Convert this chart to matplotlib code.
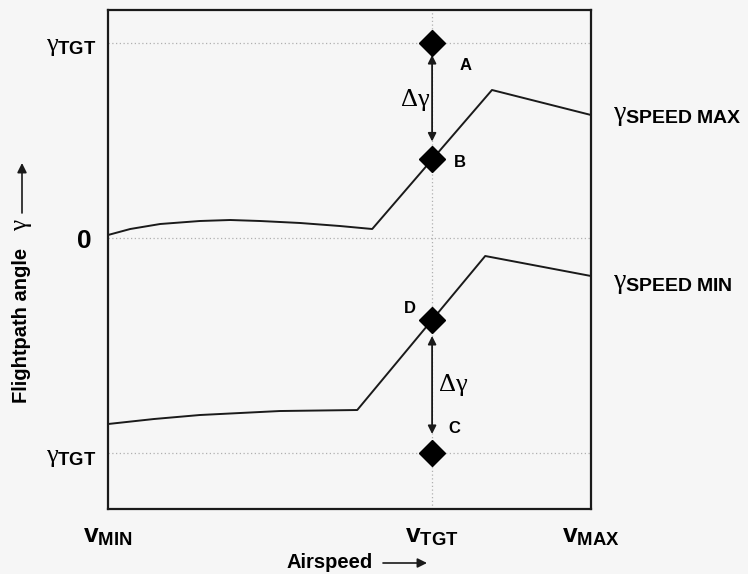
import matplotlib.pyplot as plt
import matplotlib.transforms as mtransforms
import numpy as np

plt.rcParams['font.family'] = ['Liberation Sans', 'DejaVu Sans']
plt.rcParams['mathtext.fontset'] = 'custom'
plt.rcParams['mathtext.rm'] = 'Liberation Sans:bold'
plt.rcParams['mathtext.it'] = 'Liberation Serif'
plt.rcParams['mathtext.bf'] = 'Liberation Sans:bold'

# airspeed in % of the range Vmin..Vmax, flightpath angle in arbitrary units
v_tgt = 67.1
gamma_tgt_up = 3.9
gamma_tgt_down = -4.3

speed_max_x = [0, 4.6, 10.8, 19.0, 25.3, 31.5, 39.8, 48.0, 54.7, 79.5, 100]
speed_max_y = [0.06, 0.18, 0.28, 0.34, 0.36, 0.34, 0.30, 0.24, 0.18, 2.96, 2.46]

speed_min_x = [0, 9.5, 19.0, 35.6, 51.6, 78.1, 100]
speed_min_y = [-3.72, -3.62, -3.54, -3.46, -3.44, -0.36, -0.76]

x_ticks = [0, v_tgt, 100]
x_labels = [r'$\mathrm{v}_{\mathrm{MIN}}$', r'$\mathrm{v}_{\mathrm{TGT}}$', r'$\mathrm{v}_{\mathrm{MAX}}$']
y_ticks = [gamma_tgt_down, 0, gamma_tgt_up]
y_labels = [r'$\gamma_{\mathrm{TGT}}$', r'$\mathrm{0}$', r'$\gamma_{\mathrm{TGT}}$']

bg = '#f6f6f6'
fig = plt.figure(figsize=(7.48, 5.74), dpi=100, facecolor=bg)
ax = fig.add_axes([0.1444, 0.1132, 0.6457, 0.8694], facecolor=bg)

ax.set_xlim(0, 100)
ax.set_ylim(-5.42, 4.56)

dot = dict(color='#b0b0b0', lw=0.9, ls=(0, (1, 2)), zorder=1)
for yy in y_ticks:
    ax.axhline(yy, **dot)
ax.axvline(v_tgt, **dot)

ax.plot(speed_max_x, speed_max_y, color='#1a1a1a', lw=1.4, zorder=2)
ax.plot(speed_min_x, speed_min_y, color='#1a1a1a', lw=1.4, zorder=2)

gB = np.interp(v_tgt, speed_max_x, speed_max_y)
gD = np.interp(v_tgt, speed_min_x, speed_min_y)
ax.plot([v_tgt] * 4, [gamma_tgt_up, gB, gD, gamma_tgt_down], 'D',
        color='black', ms=13, zorder=4)

arr = dict(arrowstyle='<|-|>', color='#1a1a1a', lw=1.3, mutation_scale=12,
           shrinkA=0, shrinkB=0)
ax.annotate('', xy=(v_tgt, gamma_tgt_up - 0.24), xytext=(v_tgt, gB + 0.36),
            arrowprops=arr)
ax.annotate('', xy=(v_tgt, gD - 0.32), xytext=(v_tgt, gamma_tgt_down + 0.38),
            arrowprops=arr)

serif = dict(family='Liberation Serif', fontsize=19, ha='center', va='center')
ax.text(63.6, 2.76, 'Δγ', **serif)
ax.text(71.6, -2.94, 'Δγ', **serif)

lab = dict(fontsize=12, fontweight='bold', ha='center', va='center')
ax.text(74.1, 3.44, 'A', **lab)
ax.text(72.9, 1.5, 'B', **lab)
ax.text(62.5, -1.4, 'D', **lab)
ax.text(71.8, -3.8, 'C', **lab)

ax.text(104.5, 2.46, r'$\gamma_{\mathrm{SPEED\ MAX}}$', fontsize=20,
        ha='left', va='center', clip_on=False)
ax.text(104.5, -0.9, r'$\gamma_{\mathrm{SPEED\ MIN}}$', fontsize=20,
        ha='left', va='center', clip_on=False)

ax.set_xticks(x_ticks)
ax.set_xticklabels(x_labels, fontsize=19)
ax.set_yticks(y_ticks)
ax.set_yticklabels(y_labels, fontsize=19)
ax.tick_params(axis='x', length=0, pad=11)
ax.tick_params(axis='y', length=0, pad=8)
ax.set_xticks([v_tgt], minor=True)
ax.set_yticks([0], minor=True)
ax.tick_params(which='minor', direction='in', length=9, width=1.2)

# the "0" sits a bit further left than the gamma labels
zero = ax.get_yticklabels()[1]
zero.set_transform(zero.get_transform() +
                   mtransforms.ScaledTranslation(-0.05, 0, fig.dpi_scale_trans))

for s in ax.spines.values():
    s.set_linewidth(1.6)
    s.set_color('#1a1a1a')

# axis titles with their arrows
fig.text(330, 11, 'Airspeed', transform=None, fontsize=14.5, fontweight='bold',
         ha='center', va='center')
fig.text(22, 249, 'Flightpath angle', transform=None, fontsize=14.5,
         fontweight='bold', ha='center', va='center', rotation=90)
fig.text(21, 349, 'γ', transform=None, fontsize=18, family='Liberation Serif',
         ha='center', va='center', rotation=90)
head = dict(arrowstyle='-|>', color='#1a1a1a', lw=1.2, mutation_scale=14,
            shrinkA=0, shrinkB=0)
ax.annotate('', xy=(427, 11), xytext=(383, 11), xycoords='figure pixels',
            textcoords='figure pixels', arrowprops=head, annotation_clip=False)
ax.annotate('', xy=(22, 411), xytext=(22, 361), xycoords='figure pixels',
            textcoords='figure pixels', arrowprops=head, annotation_clip=False)

fig.savefig('out.png', dpi=100, facecolor=bg)
